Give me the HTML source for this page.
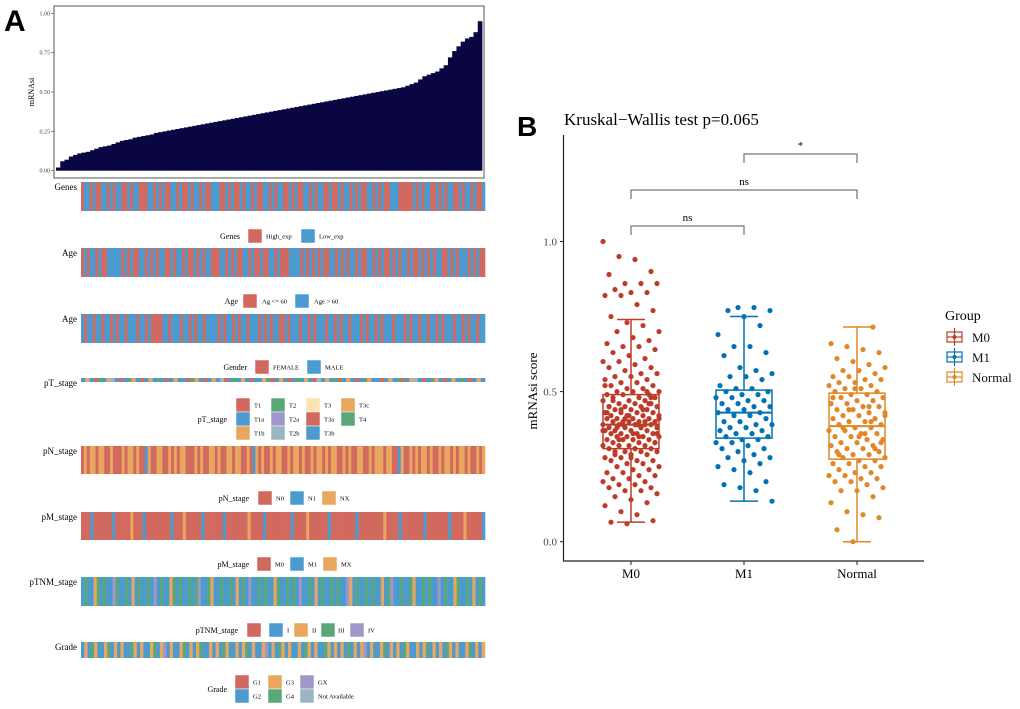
<!DOCTYPE html>
<html><head><meta charset="utf-8"><style>
html,body{margin:0;padding:0;background:#fff;}
svg{display:block;font-family:"Liberation Serif",serif;}
</style></head><body>
<svg id="fig" width="1020" height="709" viewBox="0 0 1020 709">
<text x="4" y="31" font-family="Liberation Sans" font-weight="bold" font-size="30">A</text>
<text x="517" y="136" font-family="Liberation Sans" font-weight="bold" font-size="28">B</text>
<g id="pa"></g>
<g id="tracks"></g>
<g id="legs"></g>
<g id="pb"></g>
</svg>
<script>
// ---------- Panel A data ----------
const barValues = [0.02,0.06,0.07,0.09,0.10,0.11,0.115,0.12,0.13,0.14,0.15,0.155,0.16,0.17,0.18,0.19,0.195,0.20,0.21,0.215,0.22,0.225,0.23,0.24,0.245,0.25,0.255,0.26,0.265,0.27,0.275,0.28,0.285,0.29,0.295,0.30,0.305,0.31,0.315,0.32,0.325,0.33,0.335,0.34,0.345,0.35,0.355,0.36,0.365,0.37,0.375,0.38,0.385,0.39,0.395,0.40,0.405,0.41,0.415,0.42,0.425,0.43,0.435,0.44,0.445,0.45,0.455,0.46,0.465,0.47,0.475,0.48,0.485,0.49,0.495,0.50,0.505,0.51,0.515,0.52,0.525,0.53,0.54,0.55,0.56,0.58,0.60,0.61,0.62,0.63,0.65,0.67,0.72,0.76,0.79,0.82,0.84,0.85,0.88,0.95];
const yTicksA = [0,0.25,0.5,0.75,1.0];
const yTickLabelsA = ["0.00","0.25","0.50","0.75","1.00"];

const trackNames = ["Genes","Age","Age","pT_stage","pN_stage","pM_stage","pTNM_stage","Grade"];
const trackData = [
"RBBRBRRBBRBRBBRRBRBBRRRBBRBRBRRBBRBRRBRBBRBRRBBBRRBRBRRBRBBRBRRBBRBRBBRRBRBRRBBRBRBBRRBRRBRBBRBRBRRBBRBRBRRBBBRRRRRBRBRBBRRBRBRBBRRBRBBRBRRB",
"RBRBBRBRRBBBBBRBRBRRBBRBRBRBBRRBRBBRBRRBRBRBBRRRBBRBRBRRBBRBRRBRRBBRBRRRBBBBRBRBRBRBRRBBRBRBRBBRBRRBBRBRBRRBRBRBBRBRRBRBRBRBBRRBRBRBBBRBRBRR",
"BRBBRBBRBBRBRBBRBBBRBBRBRRRRBBRBBBRBBRBRBBRBBBBRBRBBRBRBBRBBBRBRBRBBRRBRBBBRBBRBRBBBRBBRBRBBRBBBRBRBBRBRBBBRBBBRBRBBRBBRBBRBRBBBRBBRBRBBRBB",
"BOBRGBOYBRBGOBRBOBGBRBOBBRGOBRBOBYRBGBOBRBBOGRBOBRBGBOBRYBOBGRBOBRBGOBBRBOBGRBOYBRBGOBRBOBGBRBOB",
"ROROOROORRORRROROORORRBORROORROROROORRRORORROORORROOROORRORBORORROROORROROORORROROOROROORRORORROORROROOOROORRBORROROROORORROROOROROORORRORO",
"RRRBRRRRRRBRRRRRORRRBRRRRRRRRBRRRORRRRRBRRRRRRBRRRRRRRORRRRBRRRRRRRRBRRRRORRRRRRBRRRRRRRRBRRRRRRRRORRRRBRRRRRRRBRRRRRRRBRRRRORRRRRB",
"BGBBOGBGBBPGBBGBOBGBBGBPBGBBOGBGBBGBGPBBGOBBGBBGBOBGBPBBGBGBBOGBBGBGBPBBGBOBGBBGBGBBPOBGBBGBGBBOBGPBBGBBGOBBGBGBBPBGBBOGBBGBOBGB",
"BOBGOBBOGBOBOBBGOBOBBOGBOPBOBBOGBOBOGBBOBOBGOBBOBOGBOBBOPBOBGOBOBBOBGOBOBBGOBOBOBGBOBOPBOBBOGBOBOBGOBBOBOGBOBOBGOBOBBOGBOBO"
];
// ---------- Panel B data ----------
const groups = ["M0","M1","Normal"];
const boxStats = [ // [whiskerLow, Q1, median, Q3, whiskerHigh]
 [0.065,0.31,0.39,0.49,0.74],
 [0.135,0.345,0.43,0.505,0.75],
 [0.0,0.275,0.385,0.495,0.715]
];
const ptsM0 = [1.0,0.95,0.94,0.90,0.89,0.86,0.86,0.86,0.84,0.83,0.83,0.82,0.82,0.79,0.77,0.75,0.73,0.72,0.70,0.70,0.68,0.67,0.66,0.65,0.65,0.64,0.63,0.62,0.61,0.60,0.60,0.59,0.58,0.58,0.57,0.56,0.56,0.55,0.55,0.54,0.54,0.53,0.53,0.52,0.52,0.51,0.51,0.50,0.50,0.50,0.49,0.49,0.49,0.48,0.48,0.48,0.47,0.47,0.47,0.46,0.46,0.46,0.45,0.45,0.45,0.45,0.44,0.44,0.44,0.43,0.43,0.43,0.43,0.42,0.42,0.42,0.42,0.41,0.41,0.41,0.41,0.40,0.40,0.40,0.40,0.40,0.39,0.39,0.39,0.39,0.39,0.38,0.38,0.38,0.38,0.37,0.37,0.37,0.37,0.36,0.36,0.36,0.36,0.35,0.35,0.35,0.35,0.34,0.34,0.34,0.34,0.33,0.33,0.33,0.32,0.32,0.32,0.32,0.31,0.31,0.31,0.30,0.30,0.30,0.29,0.29,0.29,0.28,0.28,0.27,0.27,0.27,0.26,0.26,0.25,0.25,0.24,0.24,0.23,0.23,0.22,0.22,0.21,0.21,0.20,0.20,0.19,0.19,0.18,0.18,0.17,0.17,0.16,0.15,0.14,0.13,0.12,0.10,0.09,0.07,0.065,0.06,0.44,0.41,0.38,0.36,0.46,0.43,0.39,0.35,0.33,0.47,0.42,0.40,0.37,0.34,0.31,0.48,0.45,0.41,0.38,0.36,0.30,0.28,0.50,0.52,0.44,0.39];
const ptsM1 = [0.78,0.78,0.77,0.77,0.75,0.72,0.69,0.65,0.65,0.63,0.62,0.58,0.57,0.56,0.55,0.55,0.54,0.52,0.51,0.51,0.50,0.50,0.49,0.49,0.48,0.48,0.47,0.47,0.46,0.46,0.45,0.45,0.44,0.44,0.43,0.43,0.42,0.42,0.41,0.40,0.40,0.39,0.39,0.38,0.38,0.37,0.37,0.36,0.36,0.35,0.35,0.34,0.34,0.33,0.33,0.32,0.31,0.31,0.30,0.29,0.28,0.28,0.27,0.26,0.25,0.24,0.23,0.20,0.19,0.18,0.17,0.135];
const ptsNormal = [0.715,0.66,0.65,0.64,0.63,0.61,0.60,0.59,0.58,0.57,0.57,0.56,0.55,0.55,0.54,0.54,0.53,0.53,0.52,0.52,0.51,0.51,0.50,0.50,0.49,0.49,0.48,0.48,0.47,0.47,0.46,0.46,0.45,0.45,0.44,0.44,0.43,0.43,0.42,0.42,0.41,0.41,0.40,0.40,0.39,0.39,0.38,0.38,0.37,0.37,0.36,0.36,0.35,0.35,0.34,0.34,0.33,0.33,0.32,0.32,0.31,0.31,0.30,0.30,0.29,0.29,0.28,0.28,0.27,0.27,0.26,0.26,0.25,0.25,0.24,0.23,0.23,0.22,0.22,0.21,0.21,0.20,0.20,0.19,0.18,0.17,0.17,0.15,0.13,0.10,0.09,0.08,0.04,0.0,0.45,0.42,0.38,0.35,0.31,0.48,0.44,0.36,0.33,0.29,0.51,0.40];
const yTicksB = [0,0.5,1.0];
const yTickLabelsB = ["0.0","0.5","1.0"];
const comparisons = [ // [groupA, groupB, label, level]
 [0,1,"ns",0],[0,2,"ns",1],[1,2,"*",2]
];

const NS="http://www.w3.org/2000/svg";
function mk(tag,attrs,parent,text){const e=document.createElementNS(NS,tag);for(const k in attrs)e.setAttribute(k,attrs[k]);if(text!==undefined)e.textContent=text;parent.appendChild(e);return e;}

// ---------- Panel A barplot ----------
const pa=document.getElementById('pa');
const AX0=54,AX1=484,AY0=170.7,AY1=13.3;
const ya=v=>AY0-(AY0-AY1)*v;
const bw=(AX1-2-AX0-2)/barValues.length;
let r=mk('rect',{x:AX0,y:6,width:AX1-AX0,height:172,fill:'#fff',stroke:'#555','stroke-width':1},pa);

barValues.forEach((v,i)=>{
 const b=mk('rect',{x:AX0+2+i*bw,y:ya(v),width:bw+0.4,height:ya(0)-ya(v),fill:'#0a0642'},pa);
 
 
});
yTicksA.forEach((t,i)=>{
 mk('line',{x1:AX0-3,x2:AX0,y1:ya(t),y2:ya(t),stroke:'#555','stroke-width':0.7},pa);
 const l=mk('text',{x:AX0-4,y:ya(t)+2,'text-anchor':'end','font-size':6,fill:'#444'},pa,yTickLabelsA[i]);
 
});
let yl=mk('text',{x:0,y:0,transform:'translate(34,92) rotate(-90)','text-anchor':'middle','font-size':8},pa,'mRNAsi');


// ---------- Tracks ----------
const COL={R:'#d2695e',B:'#4b9bd0',O:'#e9a65f',G:'#5aa87a',P:'#a196c9',Y:'#9bb5c4',L:'#fde3b2'};
const trackY=[[182,211],[248,277],[314,343],[378,382],[446,474],[512,540],[577,606],[642,658]];
const TX0=81,TX1=485;
const tr=document.getElementById('tracks');
trackData.forEach((s,ti)=>{
 const g=mk('g',{},tr);
 
 
 const w=(TX1-TX0)/s.length,[y0,y1]=trackY[ti];
 for(let i=0;i<s.length;i++){mk('rect',{x:TX0+i*w,y:y0,width:w+0.3,height:y1-y0,fill:COL[s[i]]},g);}
 const lab=mk('text',{x:77,y:y0+8,'text-anchor':'end','font-size':9},tr,trackNames[ti]);
 
});

// ---------- Legends ----------
const lg=document.getElementById('legs');
function legend(title,titleX,titleY,items){
 const g=mk('g',{},lg);
 
 
 mk('text',{x:titleX,y:titleY+3,'text-anchor':'end','font-size':8},g,title);
 items.forEach(([sx,sy,c,txt,tx])=>{
  mk('rect',{x:sx,y:sy-7,width:14,height:14,fill:COL[c],stroke:'#fff','stroke-width':0.5},g);
  if(txt)mk('text',{x:tx,y:sy+2.5,'font-size':6.5},g,txt);
 });
}
legend('Genes',240,236,[[248,236,'R','High_exp',266],[301,236,'B','Low_exp',319]]);
legend('Age',238,301,[[243,301,'R','Ag <= 60',262],[295,301,'B','Age > 60',314]]);
legend('Gender',247,367,[[255,367,'R','FEMALE',273],[307,367,'B','MALE',325]]);
legend('pT_stage',227,419,[[236,405,'R','T1',254],[236,419,'B','T1a',254],[236,433,'O','T1b',254],
 [271,405,'G','T2',289],[271,419,'P','T2a',289],[271,433,'Y','T2b',289],
 [306,405,'L','T3',324],[306,419,'R','T3a',324],[306,433,'B','T3b',324],
 [341,405,'O','T3c',359],[341,419,'G','T4',359]]);
legend('pN_stage',249,498,[[258,498,'R','N0',276],[290,498,'B','N1',308],[322,498,'O','NX',340]]);
legend('pM_stage',249,564,[[257,564,'R','M0',275],[290,564,'B','M1',308],[323,564,'O','MX',341]]);
legend('pTNM_stage',238,630,[[247,630,'R','',0],[269,630,'B','I',287],[294,630,'O','II',312],[321,630,'G','III',338],[350,630,'P','IV',368]]);
legend('Grade',227,689,[[235,682,'R','G1',253],[235,696,'B','G2',253],[268,682,'O','G3',286],[268,696,'G','G4',286],[300,682,'P','GX',318],[300,696,'Y','Not Available',318]]);

// ---------- Panel B ----------
const pb=document.getElementById('pb');
const BY0=541.7,BY1=241.5;
const yb=v=>BY0-(BY0-BY1)*v;
const gx=[631,744,857];
const GC=['#bc3c29','#0072b5','#e18727'];
let t=mk('text',{x:564,y:125,'font-size':17},pb,'Kruskal\u2212Wallis test p=0.065');

mk('line',{x1:563.5,x2:563.5,y1:135,y2:561,stroke:'#222','stroke-width':1.2},pb);
mk('line',{x1:563,x2:924,y1:561,y2:561,stroke:'#222','stroke-width':1.2},pb);
yTicksB.forEach((v,i)=>{
 mk('line',{x1:560,x2:563,y1:yb(v),y2:yb(v),stroke:'#222'},pb);
 const l=mk('text',{x:557,y:yb(v)+4,'text-anchor':'end','font-size':11,fill:'#444'},pb,yTickLabelsB[i]);
 
});
groups.forEach((g,i)=>{
 mk('line',{x1:gx[i],x2:gx[i],y1:561,y2:565,stroke:'#222'},pb);
 const l=mk('text',{x:gx[i],y:578,'text-anchor':'middle','font-size':13},pb,g);
 
});
let yt=mk('text',{x:0,y:0,transform:'translate(537,391) rotate(-90)','text-anchor':'middle','font-size':13},pb,'mRNAsi score');

// boxes
boxStats.forEach((s,i)=>{
 const g=mk('g',{stroke:GC[i],'stroke-width':1.5,fill:'none'},pb);
 
 
 const x=gx[i],h=28,c=14;
 mk('line',{x1:x,x2:x,y1:yb(s[0]),y2:yb(s[1])},g);
 mk('line',{x1:x,x2:x,y1:yb(s[3]),y2:yb(s[4])},g);
 mk('line',{x1:x-c,x2:x+c,y1:yb(s[0]),y2:yb(s[0])},g);
 mk('line',{x1:x-c,x2:x+c,y1:yb(s[4]),y2:yb(s[4])},g);
 mk('rect',{x:x-h,y:yb(s[3]),width:2*h,height:yb(s[1])-yb(s[3])},g);
 mk('line',{x1:x-h,x2:x+h,y1:yb(s[2]),y2:yb(s[2]),'stroke-width':2},g);
});
// points
[ptsM0,ptsM1,ptsNormal].forEach((arr,gi)=>{
 arr.forEach((v,i)=>{
  const j=(((i*37+gi*11)%29)/28-0.5)*56;
  const p=mk('circle',{cx:gx[gi]+j,cy:yb(v),r:2.6,fill:GC[gi]},pb);
  
  
 });
});
// brackets
const bracketY=[226,190,154];
comparisons.forEach(([a,b,lab,lv])=>{
 const g=mk('g',{},pb);
 
 
 const y=bracketY[lv];
 mk('path',{d:`M${gx[a]},${y+9}V${y}H${gx[b]}V${y+9}`,fill:'none',stroke:'#555','stroke-width':1},g);
 mk('text',{x:(gx[a]+gx[b])/2,y:y-5,'text-anchor':'middle','font-size':11},g,lab);
});
// legend
const lgB=mk('g',{},pb);

mk('text',{x:945,y:320,'font-size':14},lgB,'Group');
groups.forEach((g,i)=>{
 const y=337+i*20;
 const e=mk('g',{stroke:GC[i],'stroke-width':1.2,fill:'none'},lgB);
 
 
 mk('rect',{x:947,y:y-5,width:15,height:10},e);
 mk('line',{x1:954.5,x2:954.5,y1:y-9,y2:y+9},e);
 mk('line',{x1:947,x2:962,y1:y,y2:y},e);
 mk('circle',{cx:954.5,cy:y,r:2,fill:GC[i],stroke:'none'},e);
 mk('text',{x:972,y:y+5,'font-size':13,fill:'#111',stroke:'none'},lgB,g);
});
</script>
</body></html>
